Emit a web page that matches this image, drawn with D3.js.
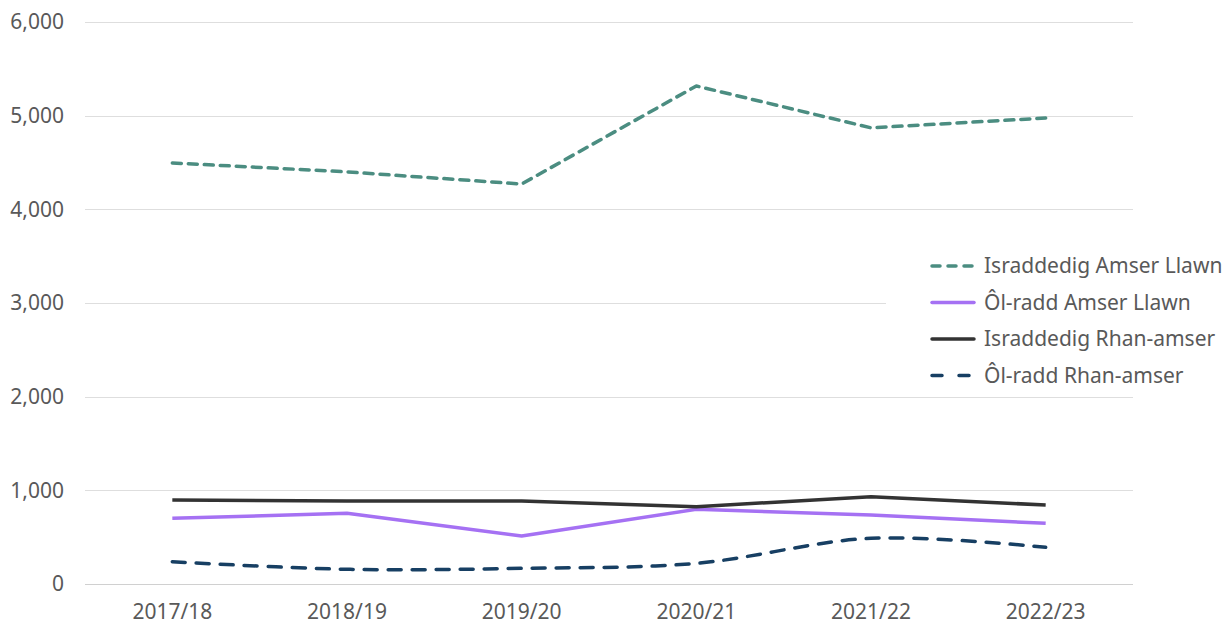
<!DOCTYPE html>
<html>
<head>
<meta charset="utf-8">
<script src="https://cdn.jsdelivr.net/npm/d3@7"></script>
<style>
  body { margin: 0; background: #fff; }
  svg text { font-family: "Noto Sans", sans-serif; fill: #595959; }
</style>
</head>
<body>
<svg id="chart"></svg>
<script>
const years = ["2017/18", "2018/19", "2019/20", "2020/21", "2021/22", "2022/23"];
const yTicks = [0, 1000, 2000, 3000, 4000, 5000, 6000];

const ugFullTime = [4495, 4400, 4270, 5317, 4870, 4975];
const pgFullTime = [701, 755, 512, 797, 737, 648];
const ugPartTime = [897, 886, 886, 826, 932, 843];
const pgPartTime = [238, 157, 167, 221, 488, 392];

const seriesNames = ["Israddedig Amser Llawn", "Ôl-radd Amser Llawn", "Israddedig Rhan-amser", "Ôl-radd Rhan-amser"];

const series = [
    { name: seriesNames[0], values: ugFullTime, color: "#4b8d81", dash: "9,7", curve: d3.curveLinear },
    { name: seriesNames[1], values: pgFullTime, color: "#a571f3", dash: null, curve: d3.curveLinear },
    { name: seriesNames[2], values: ugPartTime, color: "#333333", dash: null, curve: d3.curveLinear },
    { name: seriesNames[3], values: pgPartTime, color: "#173f63", dash: "13,11", curve: d3.curveCatmullRom.alpha(0.5) },
];

const width = 1226, height = 625;
const margin = { top: 22, right: 93, bottom: 41, left: 85 };
const innerW = width - margin.left - margin.right;
const innerH = height - margin.top - margin.bottom;

const svg = d3.select("#chart").attr("width", width).attr("height", height);
const g = svg.append("g").attr("transform", `translate(${margin.left},${margin.top})`);

const x = d3.scaleBand().domain(years).range([0, innerW]);
const y = d3.scaleLinear().domain([0, 6000]).range([innerH, 0]);

// gridlines
g.selectAll(".grid")
    .data(yTicks)
    .join("line")
    .attr("x1", 0)
    .attr("x2", innerW)
    .attr("y1", d => Math.round(y(d)) + 0.5)
    .attr("y2", d => Math.round(y(d)) + 0.5)
    .attr("stroke", d => d === 0 ? "#d0d0d0" : "#dedede")
    .attr("stroke-width", 1);

// y labels
g.selectAll(".ylab")
    .data(yTicks)
    .join("text")
    .attr("x", -21)
    .attr("y", d => y(d))
    .attr("dy", "0.35em")
    .attr("text-anchor", "end")
    .style("font-size", "21px")
    .text(d => d3.format(",")(d));

// x labels
g.selectAll(".xlab")
    .data(years)
    .join("text")
    .attr("x", d => x(d) + x.bandwidth() / 2)
    .attr("y", innerH + 28)
    .attr("dy", "0.35em")
    .attr("text-anchor", "middle")
    .style("font-size", "21px")
    .text(d => d);

// lines
series.forEach(s => {
    const line = d3.line()
        .x((d, i) => x(years[i]) + x.bandwidth() / 2)
        .y(d => y(d))
        .curve(s.curve);
    g.append("path")
        .datum(s.values)
        .attr("fill", "none")
        .attr("stroke", s.color)
        .attr("stroke-width", 3.5)
        .attr("stroke-linecap", s.dash ? "round" : "butt")
        .attr("stroke-linejoin", "round")
        .attr("stroke-dasharray", s.dash)
        .attr("d", line);
});

// legend
const legend = svg.append("g").attr("transform", "translate(886,248)");
legend.append("rect")
    .attr("width", 340)
    .attr("height", 145)
    .attr("fill", "#fff");

const items = legend.selectAll(".item")
    .data(series)
    .join("g")
    .attr("transform", (d, i) => `translate(0,${18 + i * 36.5})`);

items.append("line")
    .attr("x1", 46)
    .attr("x2", 88)
    .attr("stroke", d => d.color)
    .attr("stroke-width", 3.5)
    .attr("stroke-linecap", "round")
    .attr("stroke-dasharray", (d, i) => i === 0 ? "8,8" : i === 3 ? "10,17" : null);

items.append("text")
    .attr("x", 98)
    .attr("dy", "0.35em")
    .style("font-size", "21px")
    .text(d => d.name);
</script>
</body>
</html>
